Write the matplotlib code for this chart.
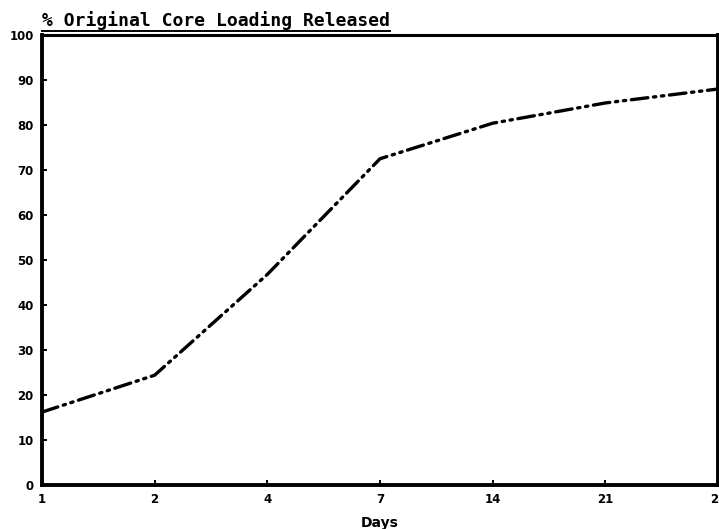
"""Cumulative release of the original core loading over time."""

import matplotlib

matplotlib.use("Agg")

import matplotlib.pyplot as plt
from matplotlib.lines import Line2D

DAYS = ["1", "2", "4", "7", "14", "21", "28"]
PERCENT_RELEASED = [16.2, 24.4, 46.8, 72.5, 80.4, 84.9, 88.0]
Y_TICKS = [0, 10, 20, 30, 40, 50, 60, 70, 80, 90, 100]

TITLE = "% Original Core Loading Released"
XLABEL = "Days"


def main() -> None:
    plt.rcParams.update({"font.family": ["DejaVu Sans"], "font.weight": "bold"})
    figure = plt.figure(figsize=(7.19, 5.29), dpi=100)
    axis = figure.add_axes([0.0584, 0.0832, 0.9402, 0.8506])

    positions = list(range(len(DAYS)))
    axis.plot(
        positions,
        PERCENT_RELEASED,
        color="black",
        linewidth=2.4,
        dashes=(5.0, 1.7, 0.7, 1.7, 0.7, 1.7),
        dash_capstyle="round",
        solid_capstyle="round",
    )

    axis.set_xlim(0, len(DAYS) - 1)
    axis.set_ylim(0, 100)
    axis.set_xticks(positions, DAYS)
    axis.set_yticks(Y_TICKS)
    axis.tick_params(
        direction="in", length=3.5, width=1.4, labelsize=8.5, pad=6, color="black"
    )
    for label in axis.get_xticklabels() + axis.get_yticklabels():
        label.set_fontweight("bold")
    for spine in axis.spines.values():
        spine.set_linewidth(2.8)
        spine.set_color("black")
    axis.spines["top"].set_linewidth(2.2)

    axis.set_xlabel(XLABEL, fontsize=10, fontweight="bold", labelpad=7)

    title = axis.text(
        0.0,
        1.012,
        TITLE,
        transform=axis.transAxes,
        ha="left",
        va="bottom",
        fontsize=13,
        fontweight="bold",
        family=["DejaVu Sans Mono"],
    )
    figure.canvas.draw()
    box = title.get_window_extent().transformed(axis.transAxes.inverted())
    axis.add_line(
        Line2D(
            [box.x0, box.x1],
            [1.008, 1.008],
            transform=axis.transAxes,
            color="black",
            linewidth=1.4,
            clip_on=False,
        )
    )

    figure.savefig("out.png", dpi=100)
    plt.close(figure)


if __name__ == "__main__":
    main()
